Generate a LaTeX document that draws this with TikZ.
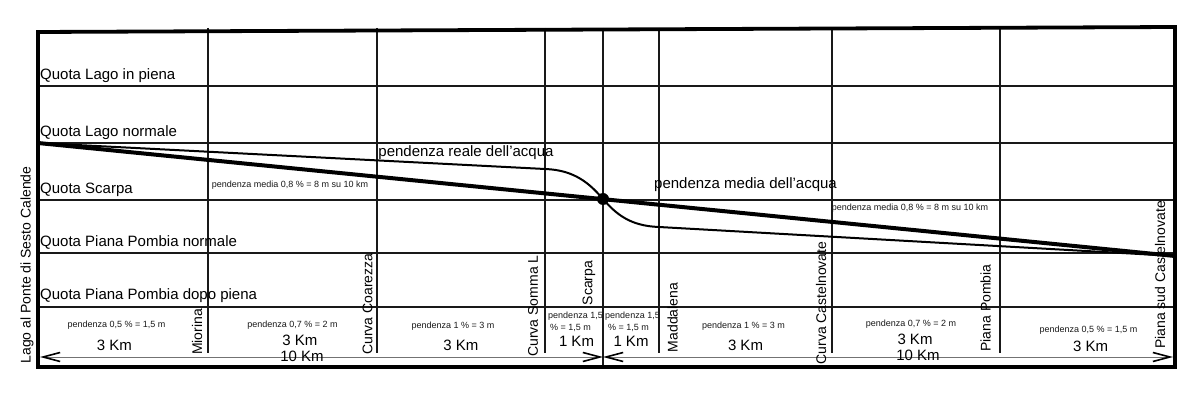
\documentclass[tikz,border=0pt]{standalone}
\usepackage{fontspec}
\setmainfont{Liberation Sans}
\usetikzlibrary{arrows.meta}
\begin{document}
\begin{tikzpicture}[x=1pt,y=-1pt,
  big/.style={font=\fontsize{15}{15}\selectfont, inner sep=0pt, text=black},
  rot/.style={font=\fontsize{14}{14}\selectfont, inner sep=0pt, rotate=90, text=black},
  small/.style={font=\fontsize{9}{9}\selectfont, inner sep=0pt, text=black!90},
  gridline/.style={line width=1.4pt, black!90},
  framebox/.style={line width=3.8pt, line join=miter},
  meanline/.style={line width=4pt},
  realline/.style={line width=2pt},
  dimline/.style={line width=0.9pt, black!55,
    {Straight Barb[length=17pt,width=9pt,line width=1.6pt,color=black]}-{Straight Barb[length=17pt,width=9pt,line width=1.6pt,color=black]}}]
\useasboundingbox[fill=white] (0,0) rectangle (1200,403);

% key coordinates
\coordinate (TL) at (38,32);
\coordinate (TR) at (1175,27);
\coordinate (BR) at (1175,367);
\coordinate (BL) at (38,367);
\coordinate (start) at (38,143);
\coordinate (mid) at (603,199);
\coordinate (finish) at (1175,256);

% horizontal grid lines
\foreach \yy in {86,143,200,253,307}
  \draw[gridline] (38,\yy) -- (1175,\yy);
% vertical grid lines
\foreach \xx in {208,377,545,659,832,1000}
  \draw[gridline] (\xx,28) -- (\xx,353);
\draw[gridline] (603,28) -- (603,367);

% frame
\draw[framebox] (TL) -- (TR) -- (BR) -- (BL) -- cycle;

% mean slope line
\draw[meanline] (start) -- (finish);
% real water profile
\draw[realline] (start) -- (545,169)
  .. controls (575,170) and (590,184) .. (mid)
  .. controls (616,214) and (630,226) .. (659,227) -- (finish);
\fill (mid) circle (6pt);

% dimension arrows
\coordinate (dL) at (40,357);
\coordinate (dM) at (603,357);
\coordinate (dR) at (1173,357);
\draw[dimline] (dL) -- (dM);
\draw[dimline] (dM) -- (dR);

% level labels
\node[big, anchor=base west] (q1) at (40,80) {Quota Lago in piena};
\node[big, anchor=base west] (q2) at (40,137) {Quota Lago normale};
\node[big, anchor=base west] (q3) at (40,194) {Quota Scarpa};
\node[big, anchor=base west] (q4) at (40,247) {Quota Piana Pombia normale};
\node[big, anchor=base west] (q5) at (40,300) {Quota Piana Pombia dopo piena};

\node[big, anchor=base] (reale) at (466,157) {pendenza reale dell'acqua};
\node[big, anchor=base west] (media) at (654,189) {pendenza media dell'acqua};
\node[small] (pm1) at (290,185) {pendenza media 0,8 \% = 8 m su 10 km};
\node[small] (pm2) at (910,208.5) {pendenza media 0,8 \% = 8 m su 10 km};

% rotated place labels
\node[rot] (lago) at (27,265) {Lago al Ponte di Sesto Calende};
\node[rot] (mio) at (197,332) {Miorina};
\node[rot] (coa) at (367.5,304) {Curva Coarezza};
\node[rot] (som) at (533,306) {Curva Somma L};
\node[rot] (sca) at (589,283) {Scarpa};
\node[rot] (mad) at (672.5,317.5) {Maddalena};
\node[rot] (cas) at (821,303) {Curva Castelnovate};
\node[rot] (pom) at (985.5,308) {Piana Pombia};
\node[rot] (sud) at (1160,275) {Piana sud Castelnovate};

% bottom cells
\node[small] (c1a) at (116.5,325.5) {pendenza 0,5 \% = 1,5 m};
\node[big] (c1b) at (114.5,345) {3 Km};
\node[small] (c2a) at (292.5,325) {pendenza 0,7 \% = 2 m};
\node[big] (c2b) at (300,340) {3 Km};
\node[big] (c2c) at (302,356) {10 Km};
\node[small] (c3a) at (453,326.5) {pendenza 1 \% = 3 m};
\node[big] (c3b) at (461,345) {3 Km};
\node[small] (c4a) at (575.5,316.5) {pendenza 1,5};
\node[small] (c4b) at (570.5,327.5) {\% = 1,5 m};
\node[big] (c4c) at (576.5,341.5) {1 Km};
\node[small] (c5a) at (632.5,316.5) {pendenza 1,5};
\node[small] (c5b) at (628.5,327.5) {\% = 1,5 m};
\node[big] (c5c) at (631,341.5) {1 Km};
\node[small] (c6a) at (743.5,326.5) {pendenza 1 \% = 3 m};
\node[big] (c6b) at (745.5,345) {3 Km};
\node[small] (c7a) at (911,324) {pendenza 0,7 \% = 2 m};
\node[big] (c7b) at (915,339) {3 Km};
\node[big] (c7c) at (918,355.5) {10 Km};
\node[small] (c8a) at (1088.5,330) {pendenza 0,5 \% = 1,5 m};
\node[big] (c8b) at (1090.5,346) {3 Km};
\end{tikzpicture}
\end{document}
